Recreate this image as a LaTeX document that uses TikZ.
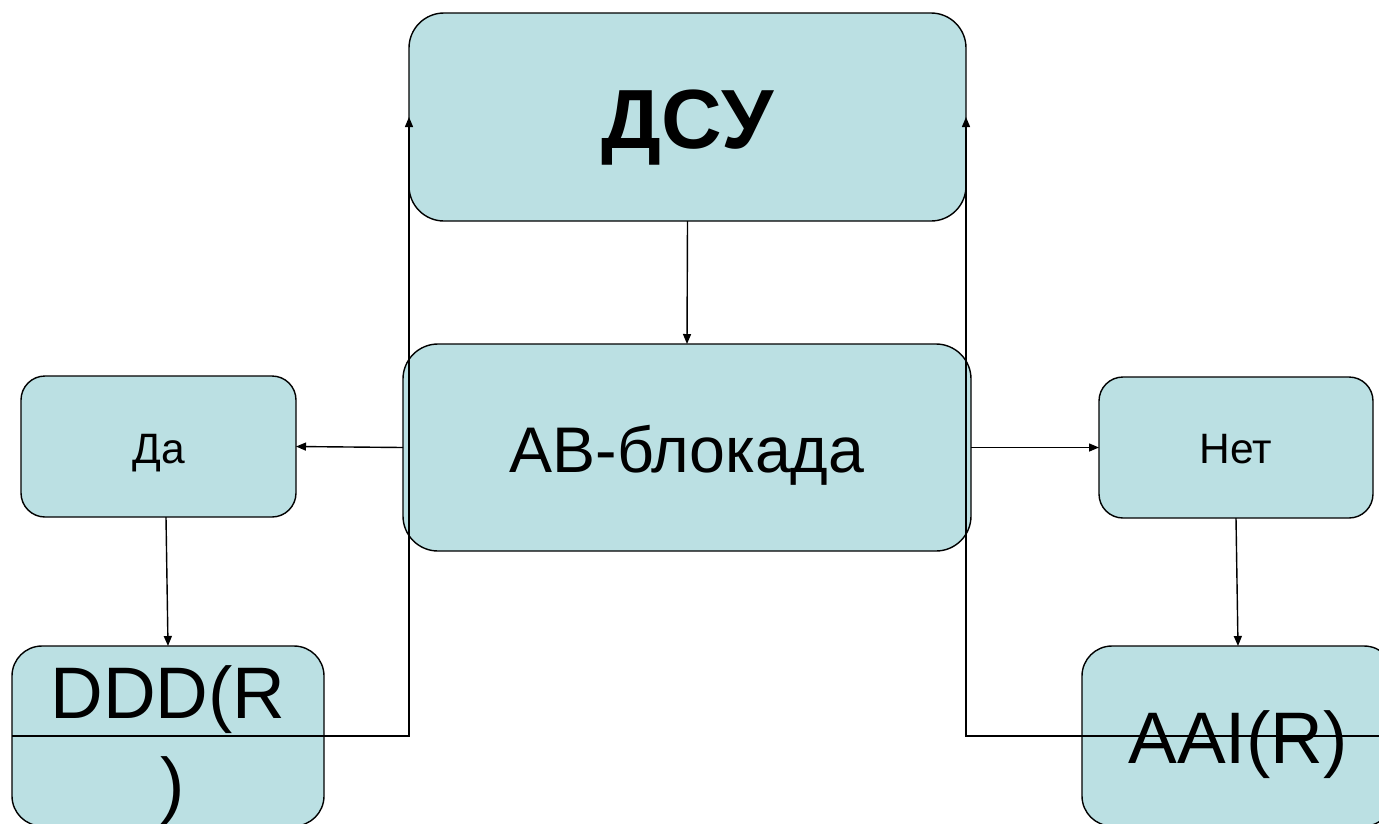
\documentclass[tikz,border=0pt]{standalone}
\usepackage{fontspec}
\setmainfont{Liberation Sans}
\usetikzlibrary{arrows.meta}
\definecolor{boxfill}{HTML}{BBE0E3}
\begin{document}
\begin{tikzpicture}[x=1pt,y=-1pt,
  box/.style={draw=black, line width=1.4pt, fill=boxfill, inner sep=0pt, outer sep=0pt},
  conn/.style={draw=black, line width=1.4pt, -{Triangle[length=10pt,width=8pt]}}]
\useasboundingbox (0,0) rectangle (1379,823);
% boxes
\node[box, rounded corners=35pt, minimum width=557pt, minimum height=208pt,
      font=\fontsize{84}{100}\selectfont\bfseries, text height=62pt, text depth=0pt]
      (dsu) at (687.5,117) {ДСУ};
\node[box, rounded corners=35pt, minimum width=568pt, minimum height=207pt,
      font=\fontsize{64.5}{78}\selectfont, text height=49pt, text depth=0pt]
      (ab) at (687,447.5) {АВ-блокада};
\node[box, rounded corners=24pt, minimum width=275pt, minimum height=141pt,
      font=\fontsize{42.5}{52}\selectfont, text height=33pt, text depth=0pt]
      (da) at (158.5,446.5) {Да};
\node[box, rounded corners=24pt, minimum width=274pt, minimum height=141pt,
      font=\fontsize{42.5}{52}\selectfont, text height=31pt, text depth=0pt]
      (net) at (1236,447.5) {Нет};
\node[box, rounded corners=30pt, minimum width=312pt, minimum height=180pt,
      font=\fontsize{73}{91}\selectfont, text height=0pt, text depth=36pt]
      (ddd) at (168,736) {\begin{tabular}[t]{@{}c@{}}DDD(R\\\hspace*{10pt})\end{tabular}};
\node[box, rounded corners=30pt, minimum width=312pt, minimum height=180pt,
      font=\fontsize{73}{91}\selectfont, text height=54pt, text depth=0pt]
      (aai) at (1238,736) {AAI(R)};
% connectors
\draw[conn] (dsu.south) -- (ab.north);
\draw[conn] (ab.west) -- (da.east);
\draw[conn] (ab.east) -- (net.west);
\draw[conn] ([xshift=7.5pt]da.south) -- (ddd.north);
\draw[conn] (net.south) -- (aai.north);
\draw[conn] (ddd.west) -- (ddd.west -| dsu.west) -- (dsu.west);
\draw[conn] (aai.east) -- (aai.east -| dsu.east) -- (dsu.east);
\end{tikzpicture}
\end{document}
